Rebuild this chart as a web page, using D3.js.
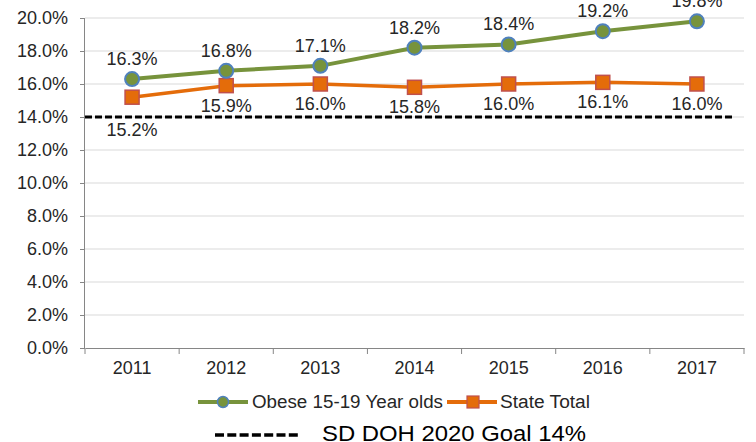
<!DOCTYPE html>
<html><head><meta charset="utf-8">
<script src="https://cdn.jsdelivr.net/npm/d3@7"></script>
<style>
html,body{margin:0;padding:0;background:#fff;}
text{font-family:"Liberation Sans",Arial,sans-serif;}
</style></head>
<body><svg id="c" width="756" height="442"></svg>
<script>
const years = ["2011","2012","2013","2014","2015","2016","2017"];
const obese = [16.3,16.8,17.1,18.2,18.4,19.2,19.8];
const stateTotal = [15.2,15.9,16.0,15.8,16.0,16.1,16.0];
const goal = 14;
const yTicks = [0,2,4,6,8,10,12,14,16,18,20];
const seriesNames = ["Obese 15-19 Year olds","State Total"];
const goalLabel = "SD DOH 2020 Goal 14%";

const svg = d3.select("#c");
const L = 85, R = 744, T = 18, B = 348;
const x = d3.scaleBand().domain(years).range([L, R]);
const y = d3.scaleLinear().domain([0,20]).range([B, T]);
const cx = d => x(d) + x.bandwidth()/2;
const FONT = "'Liberation Sans',Arial,sans-serif";

// gridlines
svg.append("g").selectAll("line").data(yTicks.filter(t=>t>0)).join("line")
  .attr("x1", L).attr("x2", R).attr("y1", d=>y(d)).attr("y2", d=>y(d))
  .attr("stroke", "#d9d9d9").attr("stroke-width", 1);

// y axis
const ya = svg.append("g").attr("transform", `translate(${L},0)`)
  .call(d3.axisLeft(y).tickValues(yTicks).tickFormat(d=>d.toFixed(1)+"%").tickSize(5).tickPadding(12));
ya.select(".domain").attr("stroke","#868686").attr("d", `M-0.5,${T}V${B}`);
ya.selectAll(".tick line").attr("stroke","#868686");
ya.selectAll("text").attr("font-size","18px").attr("fill","#262626").style("font-family",FONT);

// x axis
const xa = svg.append("g").attr("transform", `translate(0,${B})`)
  .call(d3.axisBottom(x).tickSize(0).tickPadding(13));
xa.select(".domain").attr("stroke","#868686");
xa.selectAll("text").attr("font-size","18px").attr("fill","#262626").style("font-family",FONT);
const bounds = years.map(d=>x(d)).concat([R]);
svg.append("g").selectAll("line").data(bounds).join("line")
  .attr("x1", d=>d).attr("x2", d=>d).attr("y1", B).attr("y2", B+6)
  .attr("stroke","#868686");

// goal dashed line
svg.append("line").attr("x1", L).attr("x2", 732).attr("y1", y(goal)).attr("y2", y(goal))
  .attr("stroke","#000").attr("stroke-width",3).attr("stroke-dasharray","7,3");

const line = d3.line().x((d,i)=>cx(years[i])).y(d=>y(d));

// state total
svg.append("path").datum(stateTotal).attr("d", line).attr("fill","none")
  .attr("stroke","#e46c0a").attr("stroke-width",3.5);
svg.append("g").selectAll("rect").data(stateTotal).join("rect")
  .attr("x",(d,i)=>cx(years[i])-7).attr("y",d=>y(d)-7).attr("width",14).attr("height",14)
  .attr("fill","#e46c0a").attr("stroke","#c0504d").attr("stroke-width",1.5);

// obese
svg.append("path").datum(obese).attr("d", line).attr("fill","none")
  .attr("stroke","#77933c").attr("stroke-width",4);
svg.append("g").selectAll("circle").data(obese).join("circle")
  .attr("cx",(d,i)=>cx(years[i])).attr("cy",d=>y(d)).attr("r",7)
  .attr("fill","#77933c").attr("stroke","#4f81bd").attr("stroke-width",2);

// labels
svg.append("g").selectAll("text").data(obese).join("text")
  .attr("x",(d,i)=>cx(years[i])).attr("y",d=>y(d)-20)
  .attr("text-anchor","middle").attr("dominant-baseline","central")
  .attr("font-size","18px").attr("fill","#262626").text(d=>d.toFixed(1)+"%");
svg.append("g").selectAll("text").data(stateTotal).join("text")
  .attr("x",(d,i)=>cx(years[i]))
  .attr("y",d=>{ let ly = y(d)+20; if (Math.abs(ly - y(goal)) < 8) ly = y(goal)+13; return ly; })
  .attr("text-anchor","middle").attr("dominant-baseline","central")
  .attr("font-size","18px").attr("fill","#262626").text(d=>d.toFixed(1)+"%");

// legend
const lg = svg.append("g");
const ly = 402;
lg.append("line").attr("x1",198).attr("x2",248).attr("y1",ly).attr("y2",ly)
  .attr("stroke","#77933c").attr("stroke-width",4);
lg.append("circle").attr("cx",223).attr("cy",ly).attr("r",5.5)
  .attr("fill","#77933c").attr("stroke","#4f81bd").attr("stroke-width",1.5);
lg.append("text").attr("x",252).attr("y",408)
  .attr("font-size","18px").attr("fill","#262626")
  .attr("textLength",191).attr("lengthAdjust","spacingAndGlyphs").text(seriesNames[0]);
lg.append("line").attr("x1",447).attr("x2",497).attr("y1",ly).attr("y2",ly)
  .attr("stroke","#e46c0a").attr("stroke-width",4);
lg.append("rect").attr("x",467).attr("y",ly-6).attr("width",12).attr("height",12)
  .attr("fill","#e46c0a").attr("stroke","#c0504d").attr("stroke-width",1.2);
lg.append("text").attr("x",500).attr("y",408)
  .attr("font-size","18px").attr("fill","#262626")
  .attr("textLength",90).attr("lengthAdjust","spacingAndGlyphs").text(seriesNames[1]);

lg.append("line").attr("x1",215).attr("x2",298).attr("y1",435).attr("y2",435)
  .attr("stroke","#000").attr("stroke-width",3.5).attr("stroke-dasharray","9,3.3");
lg.append("text").attr("x",322).attr("y",441)
  .attr("font-size","22px").attr("fill","#000")
  .attr("textLength",264).attr("lengthAdjust","spacingAndGlyphs").text(goalLabel);
</script></body></html>
